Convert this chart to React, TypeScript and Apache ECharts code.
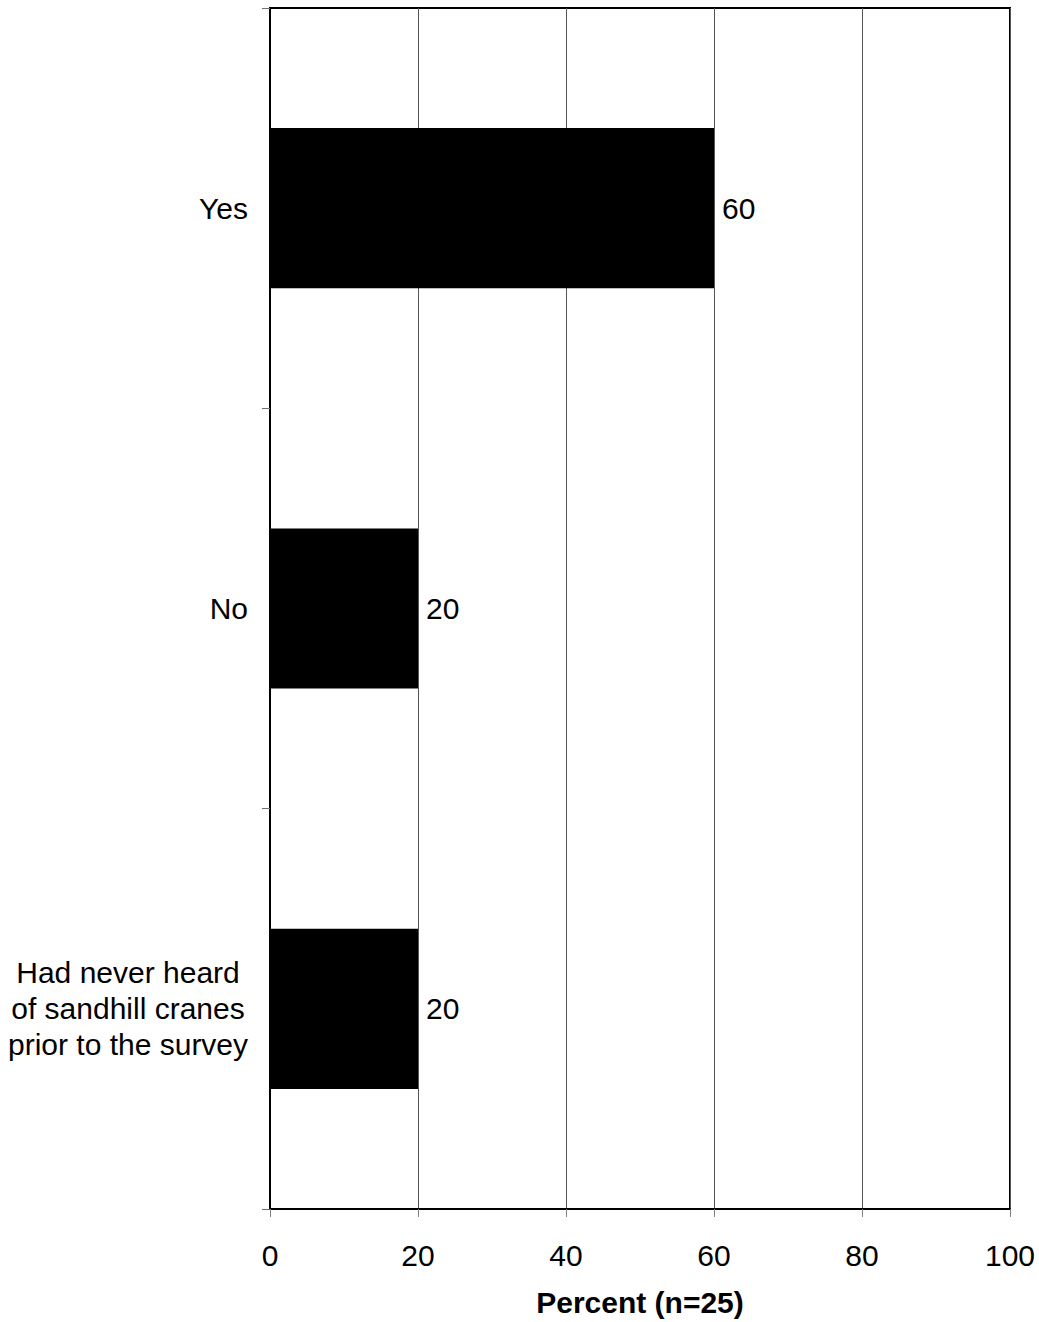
import React, { useEffect, useRef } from "react";
import * as echarts from "echarts";

const categories = ["Yes", "No", "Had never heard\nof sandhill cranes\nprior to the survey"];
const percentValues = [60, 20, 20];
const xTicks = [0, 20, 40, 60, 80, 100];
const axisTitle = "Percent (n=25)";

const FONT = "'Liberation Sans', Arial, sans-serif";
const FS = 30;

export default function App() {
  const ref = useRef<HTMLDivElement>(null);
  useEffect(() => {
    if (!ref.current) return;
    const chart = echarts.init(ref.current, null, { renderer: "svg" });
    chart.setOption({
      animation: false,
      backgroundColor: "#ffffff",
      textStyle: { fontFamily: FONT },
      grid: {
        left: 270,
        top: 8,
        right: 29,
        bottom: 112,
        show: true,
        borderColor: "#000",
        borderWidth: 2,
        backgroundColor: "transparent",
      },
      xAxis: {
        type: "value",
        min: xTicks[0],
        max: xTicks[xTicks.length - 1],
        interval: 20,
        axisLine: { show: true, lineStyle: { color: "#000", width: 2 } },
        axisTick: { show: true, length: 8, lineStyle: { color: "#808080", width: 1 } },
        splitLine: { show: true, lineStyle: { color: "#555", width: 1 } },
        axisLabel: { color: "#000", fontSize: FS, fontFamily: FONT, margin: 31 },
        name: axisTitle,
        nameLocation: "middle",
        nameGap: 78,
        nameTextStyle: { color: "#000", fontSize: FS, fontWeight: "bold", fontFamily: FONT },
      },
      yAxis: {
        type: "category",
        inverse: true,
        data: categories,
        axisLine: { show: true, lineStyle: { color: "#000", width: 2 } },
        axisTick: { show: true, length: 8, lineStyle: { color: "#707070", width: 1 } },
        splitLine: { show: false },
        axisLabel: {
          color: "#000",
          fontSize: FS,
          fontFamily: FONT,
          margin: 22,
          lineHeight: 36,
          formatter: (v: string) =>
            v
              .split("\n")
              .map((line) => (v.indexOf("\n") >= 0 ? `{c|${line}}` : line))
              .join("\n"),
          rich: {
            c: { width: 240, align: "center", fontSize: FS, lineHeight: 36, color: "#000", fontFamily: FONT },
          },
        },
      },
      series: [
        {
          type: "bar",
          data: percentValues,
          barWidth: "40%",
          itemStyle: { color: "#000" },
          label: {
            show: true,
            position: "right",
            distance: 8,
            color: "#000",
            fontSize: FS,
            fontFamily: FONT,
          },
        },
      ],
    });
    return () => chart.dispose();
  }, []);
  return (
    <div
      ref={ref}
      style={{ position: "fixed", left: 0, top: 0, width: 1039, height: 1322, background: "#fff" }}
    />
  );
}
